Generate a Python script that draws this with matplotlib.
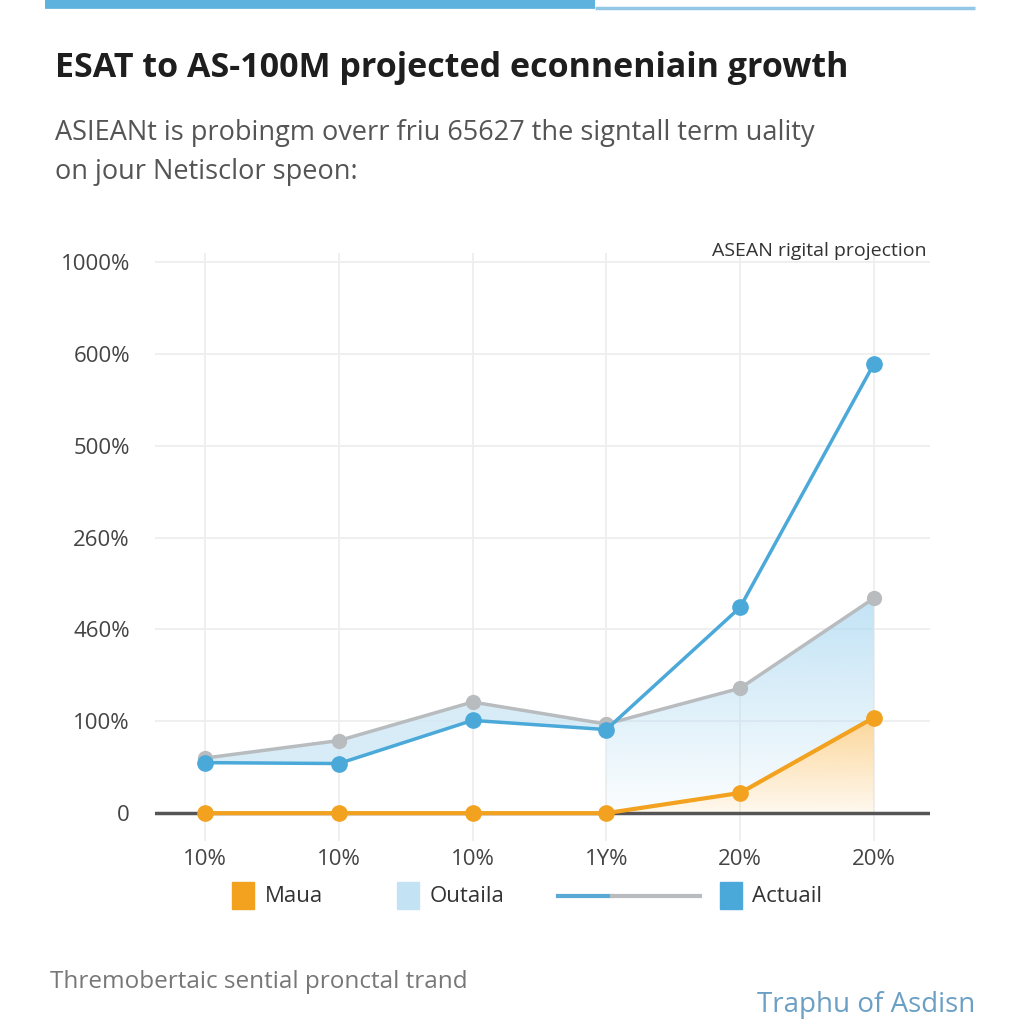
import numpy as np
import matplotlib
matplotlib.use('Agg')
import matplotlib.pyplot as plt
from matplotlib.patches import PathPatch, Rectangle
from matplotlib.lines import Line2D

plt.rcParams['font.family'] = ['Open Sans', 'DejaVu Sans']

# data (y values are in tick-slot units, labels are as printed)
x_labels = ['10%', '10%', '10%', '1Y%', '20%', '20%']
y_labels = ['0', '100%', '460%', '260%', '500%', '600%', '1000%']
actual = [0.55, 0.54, 1.01, 0.91, 2.24, 4.89]
outlook = [0.60, 0.79, 1.21, 0.97, 1.36, 2.34]
masa = [0.0, 0.0, 0.0, 0.0, 0.22, 1.04]

blue = '#4ba9d9'
gray = '#b8bcbf'
orange = '#f2a21f'
light = '#cfe8f6'

fig = plt.figure(figsize=(10.24, 10.24), dpi=100)
fig.patch.set_facecolor('white')

# top accent bar
fig.add_artist(Line2D([45/1024, 595/1024], [1 - 4/1024, 1 - 4/1024], color='#5db2de', lw=7, solid_capstyle='butt'))
fig.add_artist(Line2D([595/1024, 975/1024], [1 - 8/1024, 1 - 8/1024], color='#92c8e6', lw=2.5, solid_capstyle='butt'))

fig.text(55/1024, 1 - 68/1024, 'ESAT to AS-100M projected econneniain growth',
         fontsize=24.5, fontweight='bold', color='#1e1e1e', va='center', ha='left')
fig.text(55/1024, 1 - 133/1024, 'ASIEANt is probingm overr friu 65627 the signtall term uality',
         fontsize=19.5, color='#555555', va='center', ha='left')
fig.text(55/1024, 1 - 172/1024, 'on jour Netisclor speon:',
         fontsize=19.5, color='#555555', va='center', ha='left')

ax = fig.add_axes([155/1024, 0.179, 775/1024, 0.574])
x = np.arange(len(x_labels))

# shaded regions
ax.fill_between(x[:4], actual[:4], outlook[:4], color=light, alpha=0.8, lw=0, zorder=1)

def gradient_fill(xs, ys, base, rgb, a_top, a_bot, z):
    poly = ax.fill_between(xs, ys, base, color='none', lw=0)
    clip = PathPatch(poly.get_paths()[0], transform=ax.transData, facecolor='none', edgecolor='none')
    ax.add_patch(clip)
    top = max(ys)
    grad = np.zeros((100, 2, 4))
    grad[:, :, :3] = matplotlib.colors.to_rgb(rgb)
    grad[:, :, 3] = np.linspace(a_bot, a_top, 100)[:, None]
    im = ax.imshow(grad, extent=[xs[0], xs[-1], 0, top], origin='lower', aspect='auto', zorder=z)
    im.set_clip_path(clip)

gradient_fill(x[3:], outlook[3:], masa[3:], '#b3dcf3', 0.8, 0.05, 1)
gradient_fill(x[3:], masa[3:], 0, '#fbc978', 0.75, 0.12, 1.5)

ax.plot(x, outlook, color=gray, lw=2.5, marker='o', ms=10, zorder=3, clip_on=False)
ax.plot(x, actual, color=blue, lw=2.5, marker='o', ms=11, zorder=4, clip_on=False)
ax.axhline(0, color='#555555', lw=2.5, zorder=2)
ax.plot(x, masa, color=orange, lw=3, marker='o', ms=11, zorder=5, clip_on=False)

ax.set_xlim(-0.374, 5.42)
ax.set_ylim(-0.3, 6.1)
ax.set_xticks(x)
ax.set_xticklabels(x_labels, fontsize=16, color='#444444')
ax.set_yticks(np.arange(len(y_labels)))
ax.set_yticklabels(y_labels, fontsize=16, color='#444444')
ax.tick_params(length=0, pad=18)
ax.tick_params(axis='x', pad=6)
for s in ax.spines.values():
    s.set_visible(False)
ax.grid(True, color='#eeeeee', lw=1.3, zorder=0)
ax.set_axisbelow(True)

ax.text(0.995, 1.003, 'ASEAN rigital projection', transform=ax.transAxes,
        fontsize=14, color='#333333', ha='right', va='center')

# legend row
ly = 1 - 896/1024
fig.add_artist(Rectangle((232/1024, ly - 13/1024), 22/1024, 27/1024, color=orange))
fig.text(265/1024, ly, 'Maua', fontsize=16, color='#333333', va='center')
fig.add_artist(Rectangle((397/1024, ly - 13/1024), 22/1024, 27/1024, color='#c3e2f4'))
fig.text(430/1024, ly, 'Outaila', fontsize=16, color='#333333', va='center')
fig.add_artist(Line2D([558/1024, 612/1024], [ly, ly], color='#5aa9d4', lw=3))
fig.add_artist(Line2D([612/1024, 700/1024], [ly, ly], color=gray, lw=3))
fig.add_artist(Rectangle((720/1024, ly - 13/1024), 22/1024, 27/1024, color=blue))
fig.text(752/1024, ly, 'Actuail', fontsize=16, color='#333333', va='center')

fig.text(50/1024, 1 - 982/1024, 'Thremobertaic sential pronctal trand',
         fontsize=17.5, color='#777777', va='center', ha='left')
fig.text(975/1024, 1 - 1005/1024, 'Traphu of Asdisn',
         fontsize=20, color='#6b9fc4', va='center', ha='right')

fig.savefig('out.png', dpi=100, facecolor='white')
